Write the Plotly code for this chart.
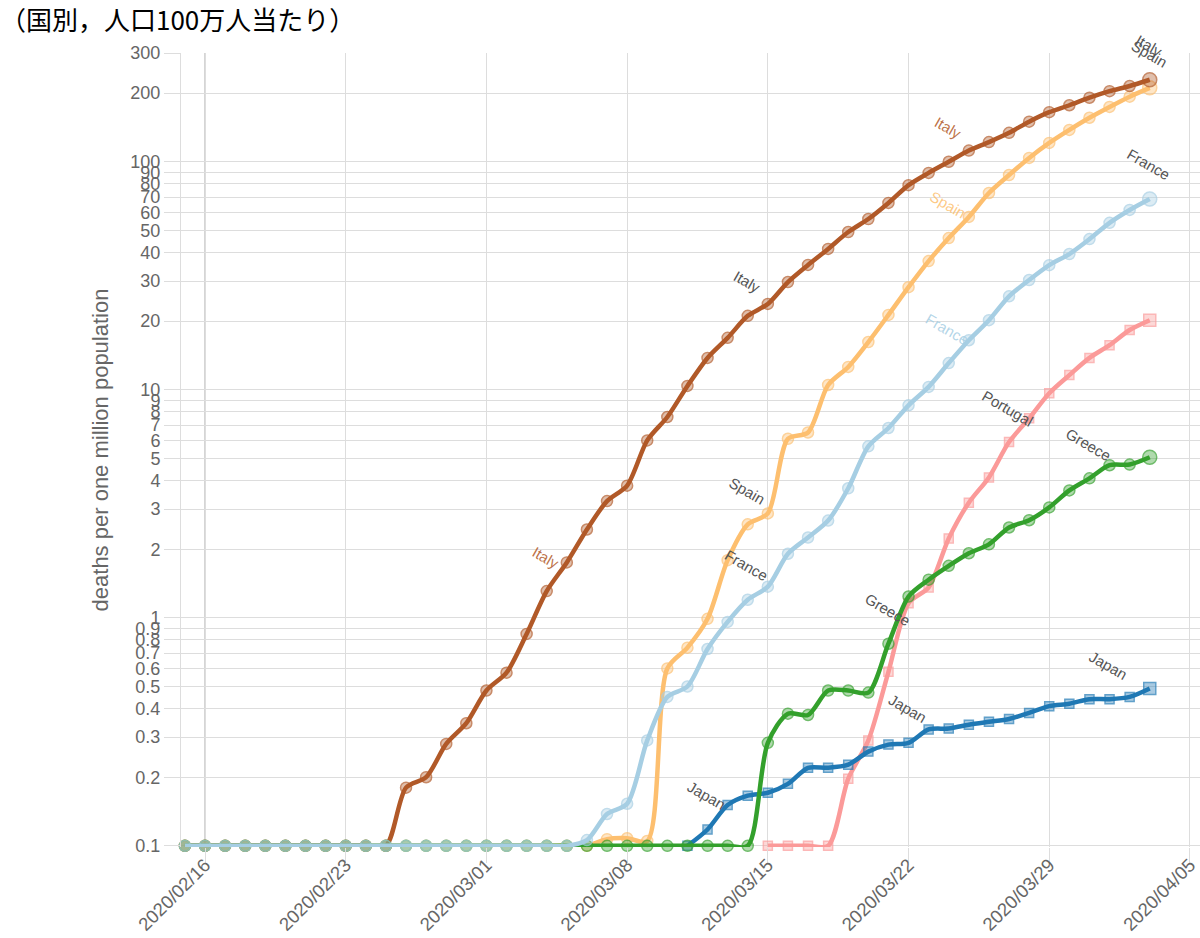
import numpy as np
import pandas as pd
import plotly.graph_objects as go

# 日付（2020/02/15〜2020/04/03）
dates = pd.date_range("2020-02-15", "2020-04-03", freq="D")

# 人口100万人当たりの死者数
italy = [0.1, 0.1, 0.1, 0.1, 0.1, 0.1, 0.1, 0.1, 0.1, 0.1, 0.1,
         0.18, 0.2, 0.28, 0.345,
         0.48, 0.575, 0.85, 1.31, 1.75, 2.44, 3.25, 3.8, 6.0, 7.6,
         10.4, 13.8, 16.9, 21.1, 23.8, 29.7, 35.3, 41.5, 49.2, 56.1,
         66, 79, 89.4, 100, 112, 122, 134, 150, 165, 177,
         191, 204, 215, 229]
spain = [0.1, 0.1, 0.1, 0.1, 0.1, 0.1, 0.1, 0.1, 0.1, 0.1, 0.1,
         0.1, 0.1, 0.1, 0.1,
         0.1, 0.1, 0.1, 0.1, 0.1, 0.1, 0.107, 0.108, 0.105, 0.6,
         0.74, 0.99, 1.79, 2.57, 2.87, 6.1, 6.5, 10.5, 12.6, 16.2,
         21.3, 28.2, 36.7, 46.3, 57.3, 73, 87.5, 104, 121, 138,
         156, 174, 193, 211]
france = [0.1, 0.1, 0.1, 0.1, 0.1, 0.1, 0.1, 0.1, 0.1, 0.1, 0.1,
          0.1, 0.1, 0.1, 0.1,
          0.1, 0.1, 0.1, 0.1, 0.1, 0.106, 0.138, 0.153, 0.29, 0.45,
          0.5, 0.73, 0.96, 1.2, 1.37, 1.91, 2.25, 2.67, 3.7, 5.65,
          6.8, 8.55, 10.3, 13.1, 16.5, 20.2, 25.7, 30.3, 35.2, 39.4,
          45.8, 54, 61.5, 68.7]
portugal = [None, None, None, None, None, None, None, None, None, None, None,
            None, None, None, None,
            None, None, None, None, None, None, None, None, None, None,
            None, None, None, None, 0.1, 0.1, 0.1, 0.1, 0.197, 0.29,
            0.58, 1.16, 1.36, 2.23, 3.2, 4.13, 5.9, 7.5, 9.66, 11.6,
            13.8, 15.7, 18.3, 20.2]
greece = [0.1, 0.1, 0.1, 0.1, 0.1, 0.1, 0.1, 0.1, 0.1, 0.1, 0.1,
          0.1, 0.1, 0.1, 0.1,
          0.1, 0.1, 0.1, 0.1, 0.1, 0.1, 0.1, 0.1, 0.1, 0.1,
          0.1, 0.1, 0.1, 0.1, 0.283, 0.38, 0.375, 0.48, 0.48, 0.47,
          0.77, 1.24, 1.47, 1.69, 1.92, 2.1, 2.49, 2.68, 3.05, 3.62,
          4.09, 4.67, 4.7, 5.06]
japan = [None, None, None, None, None, None, None, None, None, None, None,
         None, None, None, None,
         None, None, None, None, None, None, None, None, None, None,
         0.1, 0.118, 0.151, 0.166, 0.171, 0.187, 0.22, 0.22, 0.227, 0.259,
         0.278, 0.283, 0.324, 0.327, 0.34, 0.35, 0.36, 0.383, 0.41, 0.42,
         0.44, 0.44, 0.45, 0.49]

series = {
    "Portugal": (portugal, "#fb9a99", "square"),
    "Japan": (japan, "#1f78b4", "square"),
    "Spain": (spain, "#fdbf6f", "circle"),
    "Italy": (italy, "#b15928", "circle"),
    "Greece": (greece, "#33a02c", "circle"),
    "France": (france, "#a6cee3", "circle"),
}

# 系列ラベル（国名, 日付, 表示スタイル）
labels = [
    ("Italy", "2020-03-04", "color"),
    ("Italy", "2020-03-14", "gray"),
    ("Spain", "2020-03-14", "gray"),
    ("France", "2020-03-14", "gray"),
    ("Japan", "2020-03-12", "gray"),
    ("Greece", "2020-03-21", "gray"),
    ("Japan", "2020-03-22", "gray"),
    ("Italy", "2020-03-24", "color"),
    ("Spain", "2020-03-24", "color"),
    ("France", "2020-03-24", "color"),
    ("Portugal", "2020-03-27", "gray"),
    ("Greece", "2020-03-31", "gray"),
    ("Japan", "2020-04-01", "gray"),
    ("France", "2020-04-03", "gray"),
    ("Italy", "2020-04-03", "gray"),
    ("Spain", "2020-04-03", "gray"),
]

y_ticks = [0.1, 0.2, 0.3, 0.4, 0.5, 0.6, 0.7, 0.8, 0.9,
           1, 2, 3, 4, 5, 6, 7, 8, 9,
           10, 20, 30, 40, 50, 60, 70, 80, 90,
           100, 200, 300]


def rgba(hex_color, alpha):
    h = hex_color.lstrip("#")
    r, g, b = int(h[0:2], 16), int(h[2:4], 16), int(h[4:6], 16)
    return f"rgba({r},{g},{b},{alpha})"


fig = go.Figure()

for name, (vals, color, symbol) in series.items():
    n = len(vals)
    base = 11 if symbol == "circle" else 9
    sizes = [base] * (n - 1) + [base + 3]
    fig.add_trace(go.Scatter(
        x=dates, y=vals, name=name,
        mode="lines+markers",
        line=dict(color=color, width=4.5, shape="spline", smoothing=0.8),
        marker=dict(symbol=symbol, size=sizes, color=rgba(color, 0.55),
                    line=dict(color=color, width=1.5)),
        cliponaxis=False,
        showlegend=False,
    ))

for name, day, style in labels:
    vals, color, _ = series[name]
    idx = list(dates).index(pd.Timestamp(day))
    v = vals[idx]
    fig.add_annotation(
        x=day, y=np.log10(v), text=name,
        showarrow=False, textangle=30,
        xshift=-1, yshift=34,
        font=dict(family="Liberation Sans, Arial", size=15,
                  color=rgba(color, 0.85) if style == "color" else "#555555"),
    )

fig.add_shape(
    type="line", xref="x", yref="paper",
    x0="2020-02-16", x1="2020-02-16", y0=0, y1=1,
    line=dict(color="#aaaaaa", width=1), layer="below",
)

fig.update_layout(
    width=1200, height=938,
    margin=dict(l=181, r=0, t=53, b=91, autoexpand=False),
    paper_bgcolor="white", plot_bgcolor="white",
    title=dict(
        text="（国別，人口100万人当たり）",
        font=dict(family="Noto Sans CJK JP", size=26, color="#000000"),
        xref="container", x=0, xanchor="left",
        yref="container", y=0.978, yanchor="middle",
        pad=dict(l=0, r=0, t=0, b=0),
    ),
    font=dict(family="Liberation Sans, Arial", color="#666666"),
    xaxis=dict(
        type="date", automargin=False,
        range=["2020-02-14 19:20", "2020-04-05 12:00"],
        tick0="2020-02-16", dtick=7 * 24 * 3600 * 1000,
        tickformat="%Y/%m/%d", tickangle=-45,
        tickfont=dict(size=18.5, color="#666666"),
        ticks="outside", ticklen=15, tickcolor="#dddddd",
        ticklabelstandoff=-16,
        showgrid=True, gridcolor="#dddddd", gridwidth=1,
        showline=False, zeroline=False,
    ),
    yaxis=dict(
        type="log", automargin=False,
        range=[-1.005, np.log10(300)],
        tickvals=y_ticks,
        ticktext=[f"{v:g}" for v in y_ticks],
        tickfont=dict(size=18, color="#666666"),
        ticks="outside", ticklen=16, tickcolor="#dddddd",
        showgrid=True, gridcolor="#dddddd", gridwidth=1,
        showline=True, linecolor="#dddddd", linewidth=1,
        title=dict(text="deaths per one million population",
                   font=dict(size=22, color="#666666")),
    ),
)

# ページ余白をなくして図を左上に揃える
fig.write_html("out.html", config={"displayModeBar": False},
               post_script="document.body.style.margin='0px';")
